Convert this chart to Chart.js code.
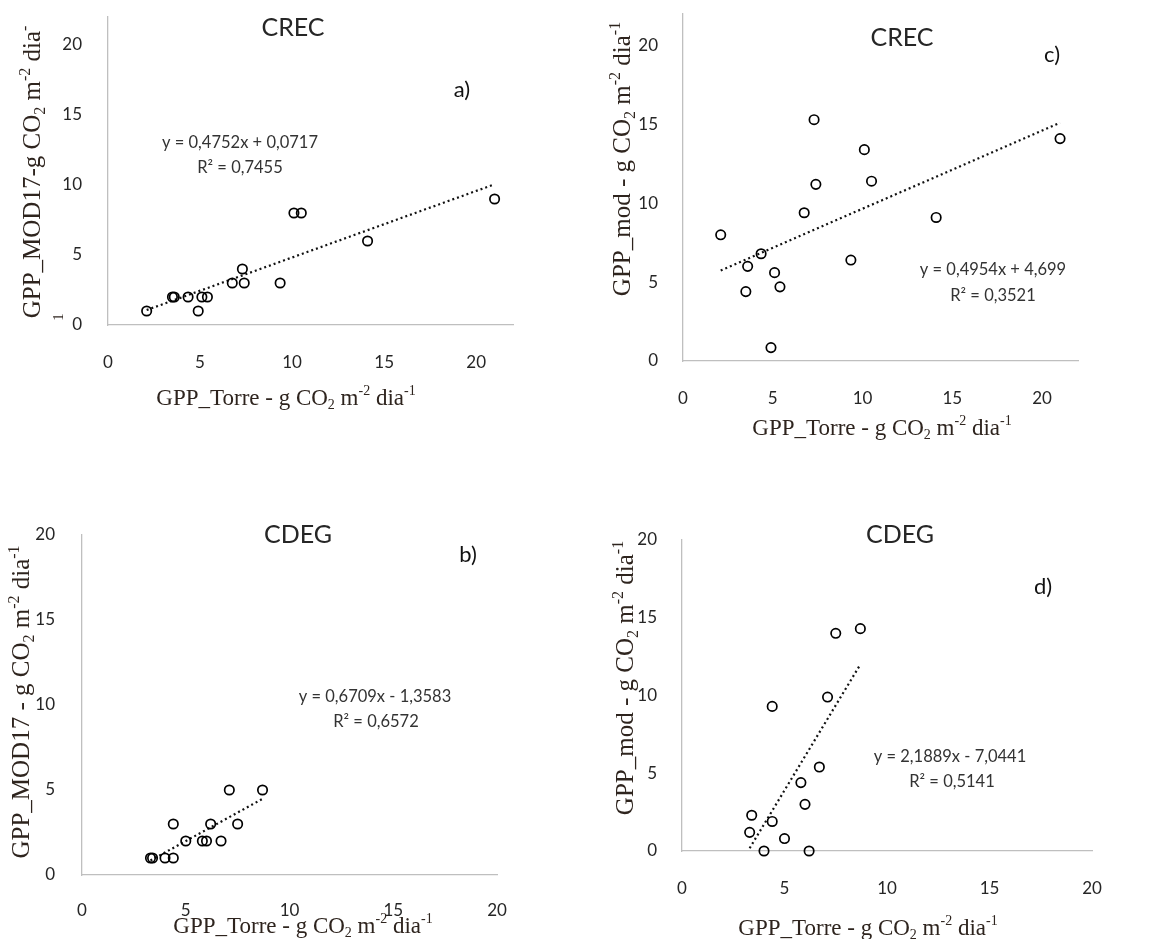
<!DOCTYPE html>
<html lang="pt">
<head>
<meta charset="utf-8">
<title>GPP Torre x MOD17 / modelo</title>
<script src="https://cdn.jsdelivr.net/npm/chart.js@4.4.1/dist/chart.umd.min.js"></script>
<style>
  html, body { margin: 0; padding: 0; background: #fff; }
  body { position: relative; width: 1168px; height: 939px; overflow: hidden; }
  canvas { position: absolute; }
</style>
</head>
<body>
<canvas id="chartA" width="580" height="440" style="left:0;top:0"></canvas>
<canvas id="chartC" width="588" height="440" style="left:580px;top:0"></canvas>
<canvas id="chartB" width="580" height="479" style="left:0;top:460px"></canvas>
<canvas id="chartD" width="588" height="479" style="left:580px;top:460px"></canvas>
<script>
// CREC: torre vs MOD17 (a) and vs modelo (c)
const crecTorre = [2.1, 3.5, 3.6, 4.35, 4.9, 5.1, 5.4, 6.75, 7.3, 7.4, 9.35, 10.1, 10.5, 14.1, 21.0]
const crecMod17 = [1, 2, 2, 2, 1, 2, 2, 3, 4, 3, 3, 8, 8, 6, 9]
const crecMod = [8.0, 4.4, 6.0, 6.8, 0.85, 5.6, 4.7, 9.4, 15.3, 11.2, 6.4, 13.4, 11.4, 9.1, 14.1]

// CDEG: torre vs MOD17 (b) and vs modelo (d)
const cdegTorre = [3.3, 3.4, 4.0, 4.4, 4.4, 5.0, 5.8, 6.0, 6.2, 6.7, 7.1, 7.5, 8.7]
const cdegMod17 = [1, 1, 1, 1, 3, 2, 2, 2, 3, 2, 5, 3, 5]
const cdegMod = [1.2, 2.3, 0, 1.9, 9.3, 0.8, 4.4, 3.0, 0, 5.4, 9.9, 14.0, 14.3]

// linear trendlines, [slope, intercept]
const fitA = [0.4752, 0.0717]
const fitB = [0.6709, -1.3583]
const fitC = [0.4954, 4.699]
const fitD = [2.1889, -7.0441]

const eqA = ["y = 0,4752x + 0,0717", "R² = 0,7455"]
const eqB = ["y = 0,6709x - 1,3583", "R² = 0,6572"]
const eqC = ["y = 0,4954x + 4,699", "R² = 0,3521"]
const eqD = ["y = 2,1889x - 7,0441", "R² = 0,5141"]

const crecMax = 22
const cdegMax = 20
const tickStep = 5

const TICK_COLOR = "#262626"
const TEXT_COLOR = "#333333"
const TITLE_COLOR = "#2e241e"
const AXIS_COLOR = "#bfbfbf"

// axis titles, pieces of [text, shift] (1 = superscript, -1 = subscript)
const xTitle = [["GPP_Torre - g CO", 0], ["2", -1], [" m", 0], ["-2", 1], [" dia", 0], ["-1", 1]]
const yTitleA = [["GPP_MOD17-g CO", 0], ["2", -1], [" m", 0], ["-2", 1], [" dia", 0], ["-", 1]]
const yTitleB = [["GPP_MOD17 - g CO", 0], ["2", -1], [" m", 0], ["-2", 1], [" dia", 0], ["-1", 1]]
const yTitleMod = [["GPP_mod - g CO", 0], ["2", -1], [" m", 0], ["-2", 1], [" dia", 0], ["-1", 1]]

function drawRich(ctx, parts, cx, cy, size, rotate) {
  const small = Math.round(size * 0.62)
  const widths = parts.map(([t, s]) => {
    ctx.font = `${s ? small : size}px "Liberation Serif"`
    return ctx.measureText(t).width
  })
  const total = widths.reduce((a, b) => a + b, 0)
  ctx.save()
  ctx.translate(cx, cy)
  if (rotate) ctx.rotate(-Math.PI / 2)
  ctx.textAlign = "left"
  ctx.textBaseline = "alphabetic"
  ctx.fillStyle = TITLE_COLOR
  let x = -total / 2
  const base = size * 0.33
  parts.forEach(([t, s], i) => {
    ctx.font = `${s ? small : size}px "Liberation Serif"`
    const dy = s > 0 ? -size * 0.4 : s < 0 ? size * 0.2 : 0
    ctx.fillText(t, x, base + dy)
    x += widths[i]
  })
  ctx.restore()
}

// text placed on each canvas (canvas pixels)
const panelNotes = {
  chartA: {
    texts: [
      { text: "CREC", x: 293, y: 28, size: 25, color: "#262626" },
      { text: "a)", x: 462, y: 90, size: 22, color: "#111" },
      { text: eqA[0], x: 240, y: 143, size: 16.5 },
      { text: eqA[1], x: 240, y: 168, size: 16.5 }
    ],
    titles: [
      { parts: xTitle, x: 286, y: 397, size: 23 },
      { parts: yTitleA, x: 32, y: 172, size: 25, rotate: true },
      { parts: [["1", 0]], x: 58, y: 317, size: 15, rotate: true }
    ]
  },
  chartC: {
    texts: [
      { text: "CREC", x: 322, y: 38, size: 25, color: "#262626" },
      { text: "c)", x: 472, y: 55, size: 22, color: "#111" },
      { text: eqC[0], x: 413, y: 270, size: 16.5 },
      { text: eqC[1], x: 413, y: 296, size: 16.5 }
    ],
    titles: [
      { parts: xTitle, x: 302, y: 427, size: 23 },
      { parts: yTitleMod, x: 42, y: 159, size: 25, rotate: true }
    ]
  },
  chartB: {
    texts: [
      { text: "CDEG", x: 298, y: 75, size: 25, color: "#262626" },
      { text: "b)", x: 468, y: 95, size: 22, color: "#111" },
      { text: eqB[0], x: 375, y: 237, size: 16.5 },
      { text: eqB[1], x: 376, y: 262, size: 16.5 }
    ],
    titles: [
      { parts: xTitle, x: 303, y: 465, size: 23 },
      { parts: yTitleB, x: 21, y: 242, size: 25, rotate: true }
    ]
  },
  chartD: {
    texts: [
      { text: "CDEG", x: 320, y: 75, size: 25, color: "#262626" },
      { text: "d)", x: 463, y: 127, size: 22, color: "#111" },
      { text: eqD[0], x: 370, y: 297, size: 16.5 },
      { text: eqD[1], x: 372, y: 322, size: 16.5 }
    ],
    titles: [
      { parts: xTitle, x: 288, y: 467, size: 23 },
      { parts: yTitleMod, x: 45, y: 218, size: 25, rotate: true }
    ]
  }
}

const notesPlugin = {
  id: "notes",
  afterDraw(chart) {
    const notes = panelNotes[chart.canvas.id]
    if (!notes) return
    const ctx = chart.ctx
    ctx.save()
    ctx.textAlign = "center"
    ctx.textBaseline = "middle"
    notes.texts.forEach(t => {
      ctx.font = `${t.size}px Lato`
      ctx.fillStyle = t.color || TEXT_COLOR
      ctx.fillText(t.text, t.x, t.y)
    })
    ctx.restore()
    notes.titles.forEach(t => drawRich(ctx, t.parts, t.x, t.y, t.size, t.rotate))
  }
}

function trendPoints(xs, fit) {
  const lo = Math.min(...xs)
  const hi = Math.max(...xs)
  return [lo, hi].map(x => ({ x, y: fit[0] * x + fit[1] }))
}

// area = chart area inside the canvas, pad = tick label gaps
function scatterChart(id, xs, ys, fit, max, area, pad) {
  const canvas = document.getElementById(id)
  const tickFont = { family: "Lato", size: 17 }
  return new Chart(canvas, {
    type: "scatter",
    data: {
      datasets: [
        {
          data: xs.map((x, i) => ({ x, y: ys[i] })),
          borderColor: "#000",
          backgroundColor: "rgba(0,0,0,0)",
          borderWidth: 1.7,
          pointRadius: 4.7,
          pointHoverRadius: 4.7,
          clip: false
        },
        {
          type: "line",
          data: trendPoints(xs, fit),
          borderColor: "#111",
          borderWidth: 2.2,
          borderDash: [2, 3],
          pointRadius: 0,
          showLine: true,
          fill: false
        }
      ]
    },
    options: {
      responsive: false,
      animation: false,
      events: [],
      layout: { padding: { left: 0, top: area.top, right: canvas.width - area.right, bottom: 0 } },
      plugins: { legend: { display: false }, tooltip: { enabled: false } },
      scales: {
        x: {
          type: "linear",
          min: 0,
          max: max,
          grid: { display: false },
          border: { color: AXIS_COLOR, width: 1.3 },
          ticks: {
            stepSize: tickStep, includeBounds: false, padding: pad.x,
            maxRotation: 0, minRotation: 0, font: tickFont, color: TICK_COLOR
          },
          afterFit: s => {
            s.height = canvas.height - area.bottom
            s.paddingLeft = 0
            s.paddingRight = 0
          }
        },
        y: {
          type: "linear",
          min: 0,
          max: max,
          grid: { display: false },
          border: { color: AXIS_COLOR, width: 1.3 },
          ticks: { stepSize: tickStep, includeBounds: false, padding: pad.y, font: tickFont, color: TICK_COLOR },
          afterFit: s => {
            s.width = area.left
            s.paddingTop = 0
            s.paddingBottom = 0
          }
        }
      }
    },
    plugins: [notesPlugin]
  })
}

scatterChart("chartA", crecTorre, crecMod17, fitA, crecMax,
  { left: 108, right: 513, top: 17, bottom: 325 }, { x: 19, y: 18 })
scatterChart("chartC", crecTorre, crecMod, fitC, crecMax,
  { left: 103, right: 498, top: 14, bottom: 361 }, { x: 19, y: 17 })
scatterChart("chartB", cdegTorre, cdegMod17, fitB, cdegMax,
  { left: 82, right: 497, top: 75, bottom: 415 }, { x: 17, y: 19 })
scatterChart("chartD", cdegTorre, cdegMod, fitD, cdegMax,
  { left: 102, right: 512, top: 80, bottom: 391 }, { x: 19, y: 17 })
</script>
</body>
</html>
